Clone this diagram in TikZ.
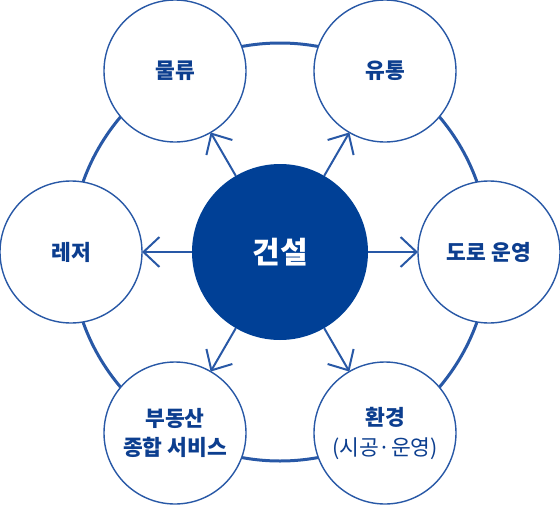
\documentclass[tikz,border=0pt]{standalone}
\usepackage{fontspec}
\setmainfont{Noto Sans CJK KR}
\usetikzlibrary{arrows.meta}
\definecolor{cfill}{RGB}{0,64,150}
\definecolor{lblue}{RGB}{40,88,166}
\definecolor{tblue}{RGB}{12,62,143}
\tikzset{
  outer/.style={circle,draw=lblue,line width=1.4pt,fill=white,minimum size=142pt,inner sep=0pt,outer sep=0pt,text=tblue,font=\fontsize{21.5pt}{29pt}\selectfont\bfseries,align=center},
  hub/.style={circle,fill=cfill,minimum size=176pt,inner sep=0pt,outer sep=0pt,text=white,font=\fontsize{30pt}{36pt}\selectfont\bfseries},
  arr/.style={draw=lblue,line width=2pt,-{Straight Barb[length=16pt,width=30pt,line width=2pt]}},
  ring/.style={draw=lblue,line width=3pt}
}
\begin{document}
\begin{tikzpicture}[x=1pt,y=-1pt]
\useasboundingbox (0,0) rectangle (560,504);
\coordinate (m) at (280,252);
\draw[ring] (m) circle[radius=209];
\node[outer] (o1) at (175,71) {물류};
\node[outer] (o2) at (385,71) {유통};
\node[outer] (o3) at (489,252) {도로 운영};
\node[outer] (o4) at (385,433) {환경\\[1pt]{\mdseries (시공·운영)}};
\node[outer] (o5) at (175,433) {부동산\\종합 서비스};
\node[outer] (o6) at (71,252) {레저};
\node[hub] (c) at (m) {건설};
\foreach \o in {o1,o2,o3,o4,o5,o6}
  \draw[arr] (c) -- (\o);
\end{tikzpicture}
\end{document}
